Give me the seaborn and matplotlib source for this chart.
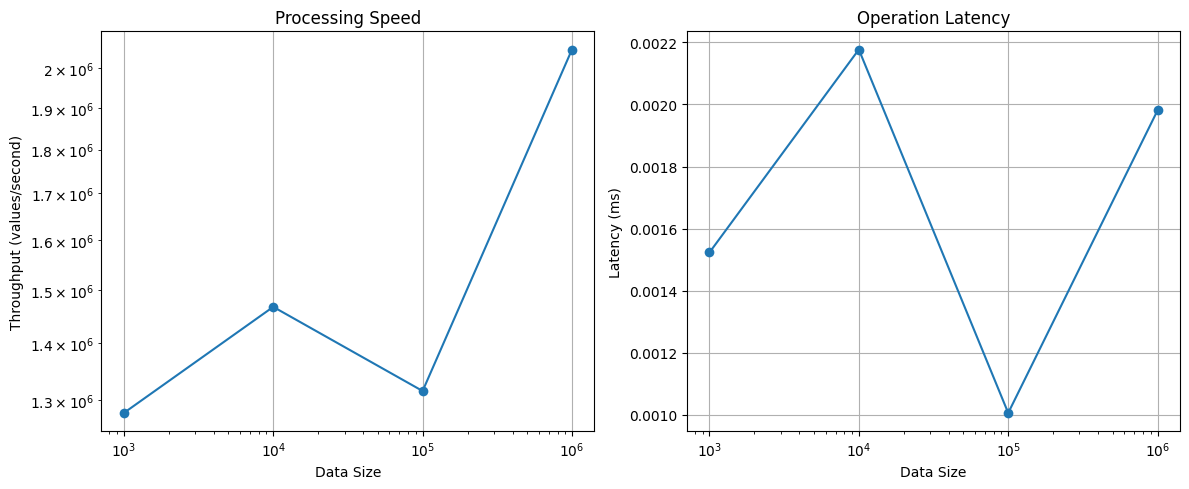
import numpy as np
import pandas as pd
import matplotlib
matplotlib.use('Agg')
import matplotlib.pyplot as plt
import seaborn as sns

# values
sizes = [1000, 10000, 100000, 1000000]
throughput = [1.278e6, 1.467e6, 1.315e6, 2.05e6]
latency = [0.001523, 0.002177, 0.001006, 0.001981]

df = pd.DataFrame({'size': sizes, 'throughput': throughput, 'latency': latency})

fig, axes = plt.subplots(1, 2, figsize=(12, 5), dpi=100)

# Processing speed (log-log)
ax = axes[0]
sns.lineplot(data=df, x='size', y='throughput', marker='o', markersize=7,
             markeredgewidth=0, color='#1f77b4', ax=ax)
ax.set_xscale('log')
ax.set_yscale('log')
ax.set_title('Processing Speed')
ax.set_xlabel('Data Size')
ax.set_ylabel('Throughput (values/second)')
ax.grid(True)

# Operation latency
ax = axes[1]
sns.lineplot(data=df, x='size', y='latency', marker='o', markersize=7,
             markeredgewidth=0, color='#1f77b4', ax=ax)
ax.set_xscale('log')
ax.set_title('Operation Latency')
ax.set_xlabel('Data Size')
ax.set_ylabel('Latency (ms)')
ax.grid(True)

plt.tight_layout()
plt.savefig('out.png', dpi=100, bbox_inches='tight')
